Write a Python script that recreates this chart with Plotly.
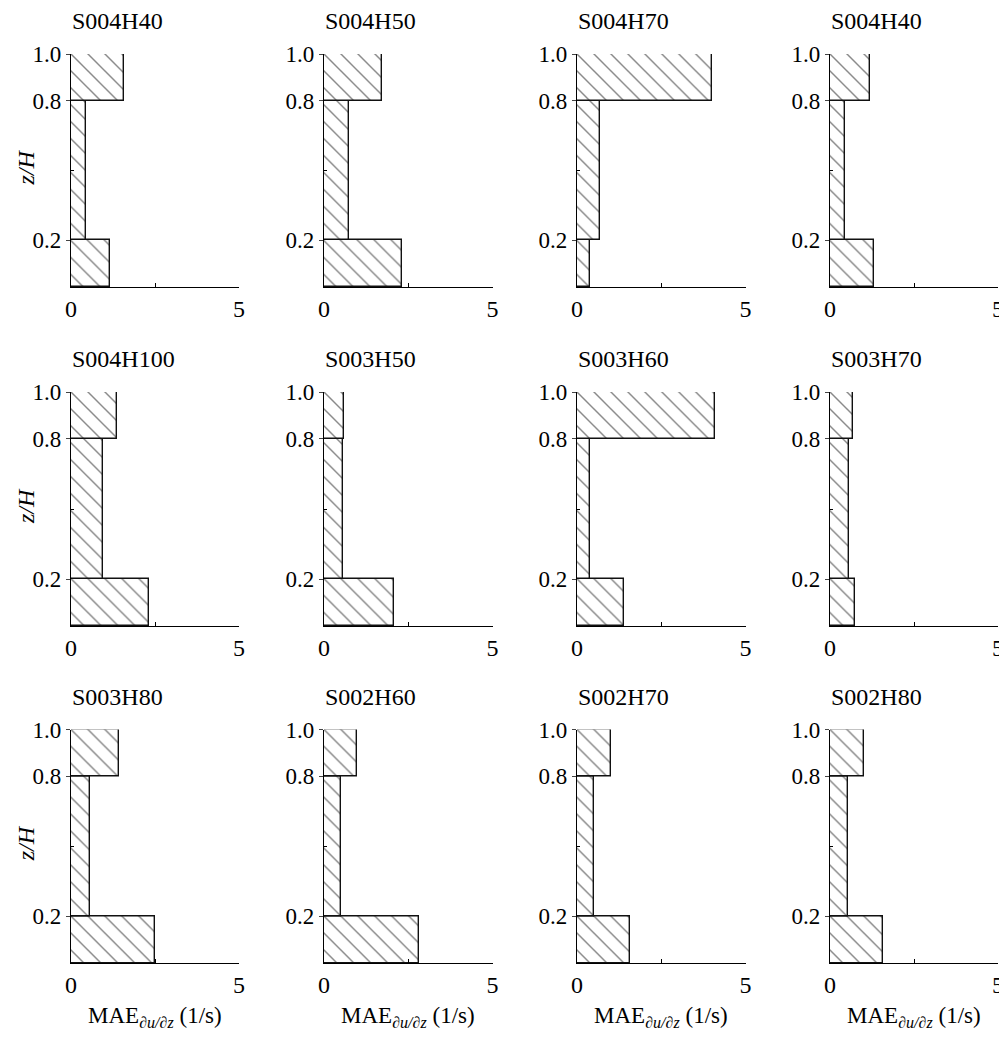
import plotly.graph_objects as go

W, H = 1007, 1041
OFF = 8  # page body margin in the browser

titles = ["S004H40", "S004H50", "S004H70", "S004H40",
          "S004H100", "S003H50", "S003H60", "S003H70",
          "S003H80", "S002H60", "S002H70", "S002H80"]

layer_edges = [0.0, 0.2, 0.8, 1.0]

mae_bottom = [1.17, 2.31, 0.38, 1.30, 2.31, 2.08, 1.40, 0.74, 2.50, 2.82, 1.58, 1.57]
mae_middle = [0.44, 0.74, 0.69, 0.46, 0.96, 0.57, 0.38, 0.58, 0.58, 0.50, 0.50, 0.55]
mae_top = [1.58, 1.72, 4.00, 1.20, 1.38, 0.60, 4.08, 0.67, 1.43, 0.99, 1.02, 1.00]

x_ticks = [0, 5]
y_ticks = [0.2, 0.8, 1.0]
y_ticktext = ["0.2", "0.8", "1.0"]

FONT = "Liberation Serif"

# pixel geometry of plot areas (screen pixels)
col_px = [(71, 239), (324, 492.5), (577, 745.5), (830, 998)]
row_px = [(54, 287), (392, 626), (729.5, 963)]


def px_x(v):
    return (v - OFF) / W


def px_y(v):
    return 1 - (v - OFF) / H


centers = [(layer_edges[i] + layer_edges[i + 1]) / 2 for i in range(3)]
widths = [layer_edges[i + 1] - layer_edges[i] for i in range(3)]

fig = go.Figure()
annotations = []
layout = {}

for k in range(12):
    r, c = divmod(k, 4)
    idx = "" if k == 0 else str(k + 1)
    xa, ya = "x" + idx, "y" + idx
    vals = [mae_bottom[k], mae_middle[k], mae_top[k]]
    fig.add_trace(go.Bar(
        x=vals, y=centers, width=widths, orientation="h",
        xaxis=xa, yaxis=ya, showlegend=False,
        marker=dict(color="white",
                    line=dict(color="#111", width=1.4),
                    pattern=dict(shape="\\", fgcolor="#111", bgcolor="white",
                                 size=12, solidity=0.12)),
    ))
    x0, x1 = col_px[c]
    y0, y1 = row_px[r]
    layout["xaxis" + idx] = dict(
        domain=[px_x(x0), px_x(x1)], anchor=ya, range=[0, 5], automargin=False,
        tickvals=x_ticks, ticks="inside", ticklen=5, tickwidth=1,
        showline=True, linecolor="black", linewidth=1.4,
        showgrid=False, zeroline=False, fixedrange=True,
        tickfont=dict(family=FONT, size=24, color="black"),
        minor=dict(tickvals=[2.5], ticks="inside", ticklen=4, tickcolor="black"),
    )
    layout["yaxis" + idx] = dict(
        domain=[px_y(y1), px_y(y0)], anchor=xa, range=[0, 1], automargin=False,
        tickvals=y_ticks, ticktext=y_ticktext, ticks="outside", ticklen=4,
        tickwidth=1, showline=True, linecolor="black", linewidth=1.4,
        showgrid=False, zeroline=False, fixedrange=True,
        tickfont=dict(family=FONT, size=23, color="black"),
        minor=dict(tickvals=[0.5], ticks="inside", ticklen=3, tickcolor="black"),
    )
    annotations.append(dict(
        text=titles[k], x=px_x(x0 - 1), y=px_y(y0 - 33), xref="paper", yref="paper",
        xanchor="left", yanchor="middle", showarrow=False,
        font=dict(family=FONT, size=24, color="black"),
    ))

for r in range(3):
    y0, y1 = row_px[r]
    annotations.append(dict(
        text="<i>z/H</i>", x=px_x(26), y=px_y((y0 + y1) / 2 - 3),
        xref="paper", yref="paper", textangle=-90,
        xanchor="center", yanchor="middle", showarrow=False,
        font=dict(family=FONT, size=24, color="black"),
    ))

for c in range(4):
    x0, x1 = col_px[c]
    annotations.append(dict(
        text="MAE<sub><i>∂u/∂z</i></sub> (1/s)", x=px_x((x0 + x1) / 2), y=px_y(1017),
        xref="paper", yref="paper", xanchor="center", yanchor="middle",
        showarrow=False, font=dict(family=FONT, size=23, color="black"),
    ))

fig.update_layout(
    width=W, height=H, margin=dict(l=0, r=0, t=0, b=0, autoexpand=False),
    paper_bgcolor="white", plot_bgcolor="white",
    bargap=0, annotations=annotations, **layout,
)

fig.write_html("out.html")
